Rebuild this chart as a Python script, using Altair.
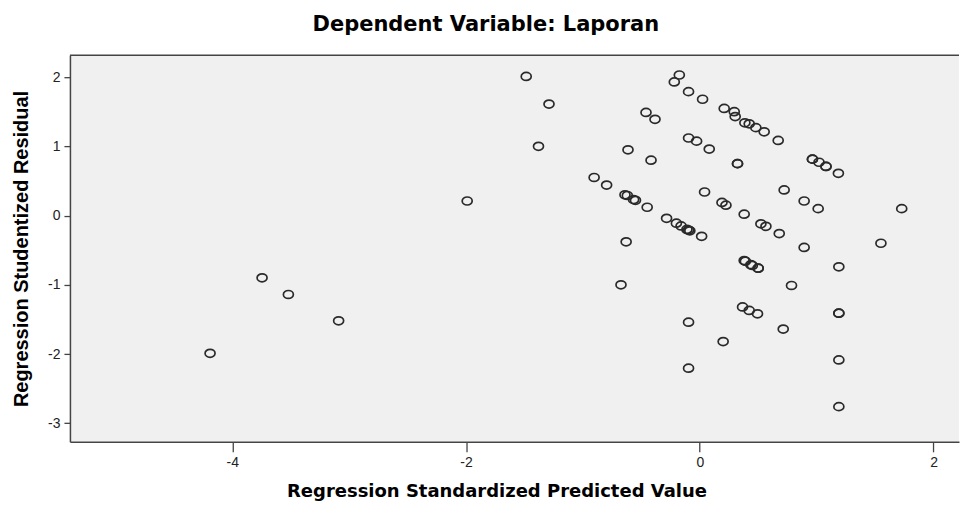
import altair as alt
import pandas as pd

# Regression Standardized Predicted Value (x) and Studentized Residual (y)
pred = [
    -4.19, -3.745, -3.52, -3.09, -1.99, -1.485, -1.29, -1.38,
    -0.175, -0.218, -0.096, 0.024, 0.209, 0.295, 0.303, 0.386, 0.423, 0.48, 0.551, 0.671,
    -0.46, -0.383, -0.096, -0.027, 0.081, 0.323, 0.323, 0.964, 0.964, 1.02, 1.08, 1.08, 1.186, -0.614, -0.417,
    -0.904, -0.797, -0.64, -0.62, -0.566, -0.55, -0.45, 0.041, 0.19, 0.224, 0.38, 0.523, 0.566, 0.68, 0.722, 0.893, 1.013, 1.728,
    -0.284, -0.20, -0.16, -0.11, -0.096, -0.085, 0.016, 0.38, 0.39, 0.437, 0.45, 0.50, 0.50, 0.893, 1.19, 1.55, -0.63,
    -0.674, 0.785, 0.366, 0.423, 0.494, 1.19, 1.19, -0.096, 0.714, 0.20, 1.19, -0.096, 1.19,
]
resid = [
    -1.99, -0.90, -1.14, -1.52, 0.21, 2.01, 1.61, 1.00,
    2.03, 1.93, 1.79, 1.68, 1.547, 1.50, 1.43, 1.34, 1.325, 1.27, 1.21, 1.085,
    1.49, 1.39, 1.12, 1.075, 0.96, 0.75, 0.75, 0.815, 0.815, 0.77, 0.71, 0.71, 0.61, 0.95, 0.80,
    0.55, 0.44, 0.30, 0.29, 0.23, 0.22, 0.12, 0.34, 0.19, 0.15, 0.02, -0.12, -0.156, -0.26, 0.37, 0.21, 0.10, 0.10,
    -0.04, -0.11, -0.15, -0.20, -0.21, -0.22, -0.30, -0.65, -0.66, -0.71, -0.72, -0.76, -0.76, -0.46, -0.74, -0.40, -0.38,
    -1.00, -1.01, -1.32, -1.37, -1.42, -1.41, -1.41, -1.54, -1.64, -1.82, -2.085, -2.205, -2.76,
]
x_ticks = [-4, -2, 0, 2]
y_ticks = [-3, -2, -1, 0, 1, 2]

df = pd.DataFrame({"pred": pred, "resid": resid})

W = 890
H = 387
AX = "#444444"
ellipse = "M-1,0A1,0.8,0,1,1,1,0A1,0.8,0,1,1,-1,0Z"

points = alt.Chart(df).mark_point(
    shape=ellipse, filled=False, size=100, color="#2a2a2a", strokeWidth=1.7, opacity=1
).encode(
    x=alt.X("pred:Q",
            scale=alt.Scale(domain=[-5.389, 2.218], nice=False, zero=False),
            axis=alt.Axis(values=x_ticks, title="Regression Standardized Predicted Value",
                          labelExpr="'' + datum.value",
                          titleFont="DejaVu Sans", titleFontSize=18, titleFontWeight="bold",
                          titleColor="#000000", titlePadding=13, titleX=427, titleAlign="center",
                          labelFont="Liberation Sans", labelFontSize=14, labelColor="#222222",
                          labelPadding=4, tickSize=10, labelFlush=False)),
    y=alt.Y("resid:Q",
            scale=alt.Scale(domain=[-3.268, 2.316], nice=False, zero=False),
            axis=alt.Axis(values=y_ticks, title="Regression Studentized Residual",
                          labelExpr="'' + datum.value",
                          titleFont="Liberation Sans", titleFontSize=20, titleFontWeight="bold",
                          titleColor="#000000", titleX=-48, titleBaseline="middle",
                          labelFont="Liberation Sans", labelFontSize=14, labelColor="#222222",
                          labelPadding=4, tickSize=6)),
)

frame_top = alt.Chart(pd.DataFrame({"k": [0]})).mark_rule(color=AX, strokeWidth=1.5).encode(
    x=alt.value(0), x2=alt.value(W), y=alt.value(0)
)

chart = alt.layer(points, frame_top).properties(
    width=W, height=H,
    padding={"left": 4, "top": 6, "right": 0, "bottom": 0},
    title=alt.TitleParams("Dependent Variable: Laporan", font="DejaVu Sans", fontSize=21,
                          fontWeight="bold", color="#000000", anchor="middle", frame="bounds",
                          offset=19),
).configure_view(
    fill="#F0F0F0", stroke=None
).configure_axis(
    grid=False, domainColor=AX, domainWidth=1.5, tickColor=AX, tickWidth=1.3
)

chart.save("out.html", embed_options={"renderer": "svg", "actions": False})
